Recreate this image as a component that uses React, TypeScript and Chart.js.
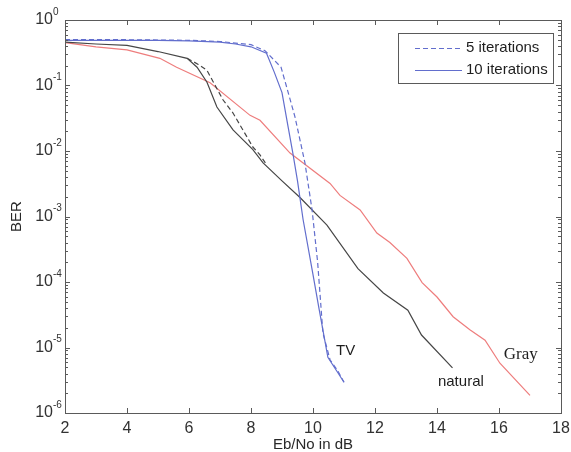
import { useEffect, useRef } from "react";
import { Chart, registerables } from "chart.js";

Chart.register(...registerables);

// ---- data ----
const xTicks = [2, 4, 6, 8, 10, 12, 14, 16, 18];
const yExponents = [0, -1, -2, -3, -4, -5, -6];

const tv10X = [2, 3, 4, 5, 6, 7, 7.5, 8, 8.5, 8.75, 9, 9.2, 9.35, 9.5, 9.68, 10, 10.2, 10.48, 10.75, 11];
const tv10Y = [0.49, 0.49, 0.49, 0.49, 0.48, 0.46, 0.43, 0.39, 0.31, 0.16, 0.078, 0.023, 0.0093, 0.0035, 0.0009, 0.00013, 3.8e-5, 7.1e-6, 4.5e-6, 2.95e-6];

const tv5X = [2, 4, 6, 7, 8, 8.45, 8.97, 9.2, 9.42, 9.74, 9.97, 10.15, 10.32, 10.55, 10.8, 11];
const tv5Y = [0.5, 0.5, 0.49, 0.47, 0.42, 0.34, 0.19, 0.078, 0.033, 0.0066, 0.00126, 0.0002, 1.66e-5, 6.5e-6, 4.4e-6, 2.95e-6];

const nat10X = [2, 3, 4, 5, 5.94, 6.26, 6.58, 6.9, 7.42, 8.06, 8.39, 9, 9.58, 10.45, 11.45, 12.27, 13.06, 13.5, 14.5];
const nat10Y = [0.46, 0.43, 0.41, 0.33, 0.26, 0.19, 0.112, 0.047, 0.021, 0.0105, 0.0066, 0.0035, 0.00195, 0.00074, 0.00016, 6.8e-5, 3.7e-5, 1.55e-5, 4.9e-6];

const nat5X = [5.94, 6.3, 6.58, 7.1, 7.42, 8.06, 8.29, 8.5];
const nat5Y = [0.26, 0.21, 0.17, 0.06, 0.038, 0.0115, 0.0087, 0.0062];

const grayX = [2, 3, 4, 5.06, 5.6, 6.68, 7.97, 8.29, 9.26, 10.55, 10.87, 11.52, 12.06, 12.48, 13.03, 13.52, 14.0, 14.52, 15.06, 15.55, 16.03, 17.0];
const grayY = [0.45, 0.39, 0.35, 0.26, 0.19, 0.11, 0.035, 0.0295, 0.0093, 0.0032, 0.0021, 0.00126, 0.00056, 0.0004, 0.00023, 9.8e-5, 5.9e-5, 2.95e-5, 1.86e-5, 1.29e-5, 5.75e-6, 1.86e-6];

const legendLabels = ["5 iterations", "10 iterations"];
const curveLabels = [
  { text: "TV", x: 11.05, y: 9e-6, font: "15px 'Liberation Sans', Arial, sans-serif" },
  { text: "natural", x: 14.77, y: 2.95e-6, font: "15px 'Liberation Sans', Arial, sans-serif" },
  { text: "Gray", x: 16.7, y: 7.9e-6, font: "17px 'Liberation Serif', 'Times New Roman', serif" },
];

const BLUE = "rgb(98,110,205)";
const BLACK = "rgb(70,70,70)";
const RED = "rgb(238,125,125)";

const pts = (xs: number[], ys: number[]) => xs.map((x, i) => ({ x, y: ys[i] }));

const SANS = "'Liberation Sans', Arial, sans-serif";

const framePlugin = {
  id: "matlabFrame",
  afterDraw(chart: any) {
    const { ctx, chartArea: a } = chart;
    const xs = chart.scales.x;
    const ys = chart.scales.y;
    ctx.save();
    ctx.strokeStyle = "rgb(90,90,90)";
    ctx.lineWidth = 1;
    ctx.strokeRect(Math.round(a.left) + 0.5, Math.round(a.top) + 0.5, Math.round(a.right - a.left), Math.round(a.bottom - a.top));

    // x ticks (bottom and top, inward)
    ctx.beginPath();
    for (const v of xTicks) {
      const px = Math.round(xs.getPixelForValue(v)) + 0.5;
      ctx.moveTo(px, a.bottom);
      ctx.lineTo(px, a.bottom - 5);
      ctx.moveTo(px, a.top);
      ctx.lineTo(px, a.top + 5);
    }
    // y ticks major + minor (left and right, inward)
    for (const e of yExponents) {
      const py = Math.round(ys.getPixelForValue(Math.pow(10, e))) + 0.5;
      ctx.moveTo(a.left, py);
      ctx.lineTo(a.left + 5, py);
      ctx.moveTo(a.right, py);
      ctx.lineTo(a.right - 5, py);
      if (e < 0) {
        for (let m = 2; m <= 9; m++) {
          const pm = Math.round(ys.getPixelForValue(m * Math.pow(10, e))) + 0.5;
          ctx.moveTo(a.left, pm);
          ctx.lineTo(a.left + 3, pm);
          ctx.moveTo(a.right, pm);
          ctx.lineTo(a.right - 3, pm);
        }
      }
    }
    ctx.stroke();

    // tick labels
    ctx.fillStyle = "rgb(50,50,50)";
    ctx.font = `16px ${SANS}`;
    ctx.textAlign = "center";
    ctx.textBaseline = "middle";
    for (const v of xTicks) {
      ctx.fillText(String(v), xs.getPixelForValue(v), a.bottom + 16);
    }
    for (const e of yExponents) {
      const py = ys.getPixelForValue(Math.pow(10, e));
      ctx.font = `16px ${SANS}`;
      ctx.textAlign = "right";
      ctx.textBaseline = "middle";
      ctx.fillText("10", a.left - 12, py);
      ctx.font = `10px ${SANS}`;
      ctx.textAlign = "left";
      ctx.fillText(String(e), a.left - 12, py - 8);
    }

    // axis titles
    ctx.fillStyle = "rgb(40,40,40)";
    ctx.font = `15px ${SANS}`;
    ctx.textAlign = "center";
    ctx.textBaseline = "middle";
    ctx.fillText("Eb/No in dB", (a.left + a.right) / 2, a.bottom + 32);
    ctx.save();
    ctx.translate(17, (a.top + a.bottom) / 2);
    ctx.rotate(-Math.PI / 2);
    ctx.fillText("BER", 0, 0);
    ctx.restore();

    // curve labels
    ctx.fillStyle = "rgb(30,30,30)";
    for (const l of curveLabels) {
      ctx.font = l.font;
      ctx.textAlign = "center";
      ctx.fillText(l.text, xs.getPixelForValue(l.x), ys.getPixelForValue(l.y));
    }

    // legend
    const lx = 398, ly = 33, lw = 155, lh = 50;
    ctx.fillStyle = "#fff";
    ctx.fillRect(lx, ly, lw, lh);
    ctx.strokeStyle = "rgb(90,90,90)";
    ctx.strokeRect(lx + 0.5, ly + 0.5, lw, lh);
    const ds = chart.data.datasets;
    const legendSets = [ds[1], ds[0]];
    legendSets.forEach((d: any, i: number) => {
      const yy = ly + 15 + i * 22;
      ctx.strokeStyle = d.borderColor;
      ctx.lineWidth = d.borderWidth;
      ctx.setLineDash(d.borderDash || []);
      ctx.beginPath();
      ctx.moveTo(415, yy + 0.5);
      ctx.lineTo(462, yy + 0.5);
      ctx.stroke();
      ctx.setLineDash([]);
      ctx.fillStyle = "rgb(30,30,30)";
      ctx.font = `15px ${SANS}`;
      ctx.textAlign = "left";
      ctx.textBaseline = "middle";
      ctx.fillText(legendLabels[i], 466, yy);
    });
    ctx.restore();
  },
};

export default function App() {
  const ref = useRef<HTMLCanvasElement | null>(null);
  useEffect(() => {
    if (!ref.current) return;
    const common = { pointRadius: 0, borderWidth: 1.2, fill: false, tension: 0 };
    const chart = new Chart(ref.current, {
      type: "line",
      data: {
        datasets: [
          { ...common, label: "TV 10 iterations", data: pts(tv10X, tv10Y), borderColor: BLUE },
          { ...common, label: "TV 5 iterations", data: pts(tv5X, tv5Y), borderColor: BLUE, borderDash: [5, 3] },
          { ...common, label: "natural 10 iterations", data: pts(nat10X, nat10Y), borderColor: BLACK },
          { ...common, label: "natural 5 iterations", data: pts(nat5X, nat5Y), borderColor: BLACK, borderDash: [5, 3] },
          { ...common, label: "Gray", data: pts(grayX, grayY), borderColor: RED },
        ],
      },
      options: {
        animation: false,
        responsive: false,
        layout: { padding: { top: 20, right: 10, left: 0, bottom: 0 } },
        plugins: { legend: { display: false }, tooltip: { enabled: false } },
        scales: {
          x: {
            type: "linear",
            min: 2,
            max: 18,
            grid: { display: false },
            border: { display: false },
            ticks: { display: false },
            afterFit: (s: any) => { s.height = 39; },
          },
          y: {
            type: "logarithmic",
            min: 1e-6,
            max: 1,
            grid: { display: false },
            border: { display: false },
            ticks: { display: false },
            afterFit: (s: any) => { s.width = 65; },
          },
        },
      },
      plugins: [framePlugin],
    } as any);
    return () => chart.destroy();
  }, []);
  return (
    <div style={{ position: "absolute", left: 0, top: 0, width: 571, height: 452, background: "#fff" }}>
      <canvas ref={ref} width={571} height={452} style={{ display: "block" }} />
    </div>
  );
}
